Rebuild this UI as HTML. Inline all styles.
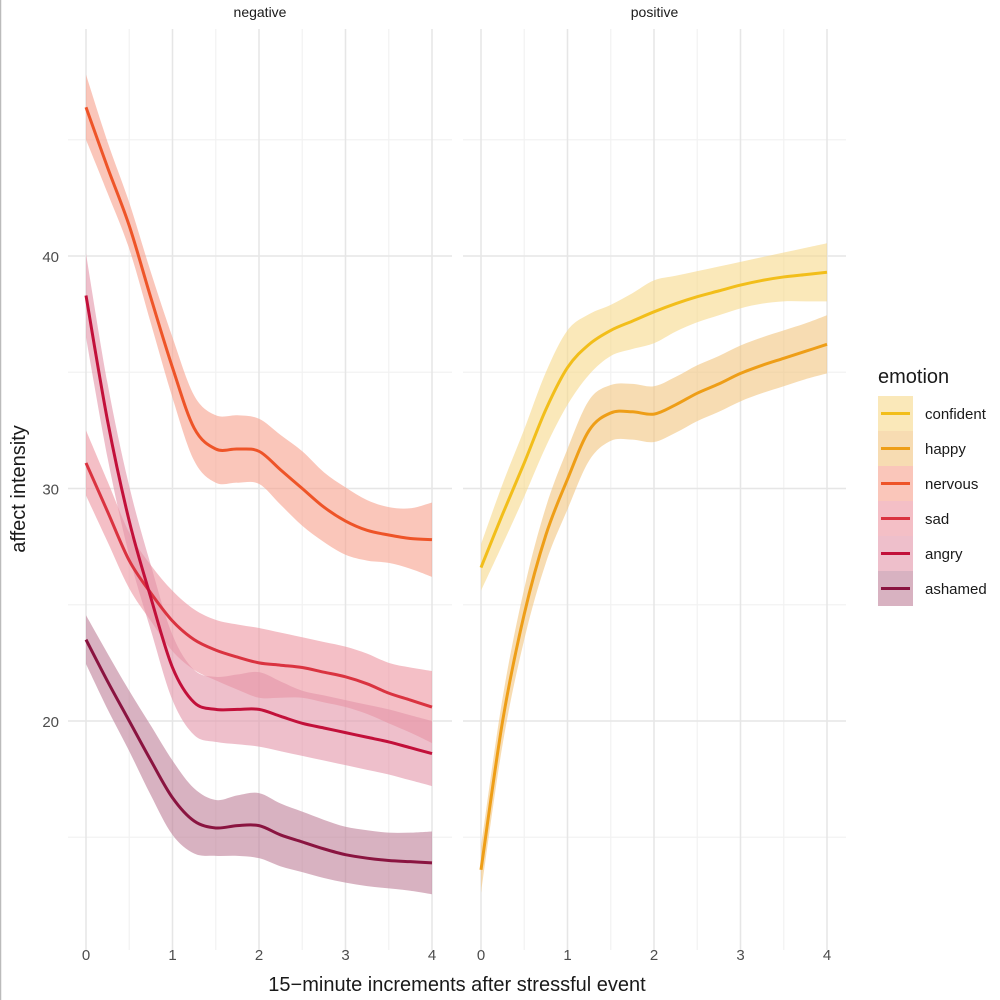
<!DOCTYPE html>
<html><head><meta charset="utf-8"><style>
body{margin:0;background:#fff}
svg{display:block;font-family:"Liberation Sans",sans-serif}
</style></head><body>
<svg id="c" width="1000" height="1000" viewBox="0 0 1000 1000">
<line x1="0.5" y1="0" x2="0.5" y2="1000" stroke="#bbb" stroke-width="1.5"/>
<g id="grid"></g><g id="marks"></g><g id="axes"></g><g id="legend"></g>
</svg>
<script>
const xs = [0,0.25,0.5,0.75,1,1.25,1.5,1.75,2,2.25,2.5,2.75,3,3.25,3.5,3.75,4];
const emotions = ["confident","happy","nervous","sad","angry","ashamed"];
const panels = ["negative","positive"];
const nervous = [46.4,43.8,41.3,38.2,35.2,32.6,31.7,31.7,31.6,30.8,30.0,29.2,28.6,28.2,28.0,27.85,27.8];
const nervousSe = [1.4,1.1,1.0,1.1,1.3,1.4,1.45,1.45,1.4,1.5,1.6,1.5,1.45,1.3,1.2,1.3,1.6];
const sad = [31.1,29.0,26.9,25.5,24.3,23.5,23.05,22.75,22.5,22.4,22.3,22.1,21.9,21.6,21.2,20.9,20.6];
const sadSe = [1.4,1.3,1.2,1.2,1.3,1.3,1.3,1.4,1.5,1.4,1.3,1.3,1.3,1.3,1.3,1.4,1.55];
const angry = [38.3,32.9,28.6,25.3,22.3,20.8,20.5,20.5,20.5,20.2,19.9,19.7,19.5,19.3,19.1,18.85,18.6];
const angrySe = [1.8,1.6,1.5,1.4,1.4,1.4,1.4,1.5,1.6,1.5,1.4,1.4,1.4,1.4,1.4,1.4,1.4];
const ashamed = [23.5,21.7,20.0,18.3,16.7,15.7,15.4,15.5,15.5,15.1,14.8,14.5,14.25,14.1,14.0,13.95,13.9];
const ashamedSe = [1.05,1.2,1.3,1.5,1.6,1.4,1.2,1.3,1.4,1.35,1.3,1.25,1.2,1.2,1.2,1.25,1.35];
const confident = [26.6,28.9,31.1,33.4,35.2,36.2,36.8,37.2,37.6,37.95,38.25,38.5,38.75,38.95,39.1,39.2,39.3];
const confidentSe = [1.0,1.3,1.45,1.6,1.6,1.3,1.1,1.2,1.35,1.2,1.1,1.05,1.0,1.0,1.05,1.15,1.25];
const happy = [13.6,20.0,24.6,28.0,30.4,32.5,33.25,33.3,33.2,33.6,34.1,34.5,34.95,35.3,35.6,35.9,36.2];
const happySe = [1.0,1.0,1.1,1.2,1.3,1.3,1.2,1.2,1.2,1.2,1.2,1.2,1.2,1.2,1.2,1.2,1.25];
const xTicks = [0,1,2,3,4];
const yTicks = [20,30,40];
const yMinor = [15,25,35,45];

const NS="http://www.w3.org/2000/svg";
const colors={confident:"#F2BE1A",happy:"#EE9E17",nervous:"#EE5428",sad:"#DA3340",angry:"#C2103A",ashamed:"#8A1440"};
const fills={confident:"#F7D88A",happy:"#F2C47E",nervous:"#F7A08C",sad:"#EC95A0",angry:"#E295A8",ashamed:"#BE7F98"};
const panelX=[{l:68,r:452,x0:86,x4:432},{l:463,r:846,x0:481,x4:827}];
const pTop=29,pBot=950;
function yS(v){return 256+(40-v)*23.25;}
function xS(p,v){const P=panelX[p];return P.x0+v*(P.x4-P.x0)/4;}
function el(t,a,parent){const e=document.createElementNS(NS,t);for(const k in a)e.setAttribute(k,a[k]);parent.appendChild(e);return e;}
function smooth(pts){let d="M"+pts[0][0]+","+pts[0][1];for(let i=0;i<pts.length-1;i++){const p0=pts[i-1]||pts[i],p1=pts[i],p2=pts[i+1],p3=pts[i+2]||p2;
d+=" C"+(p1[0]+(p2[0]-p0[0])/6)+","+(p1[1]+(p2[1]-p0[1])/6)+" "+(p2[0]-(p3[0]-p1[0])/6)+","+(p2[1]-(p3[1]-p1[1])/6)+" "+p2[0]+","+p2[1];}return d;}
const grid=document.getElementById("grid"),marks=document.getElementById("marks"),axes=document.getElementById("axes"),legend=document.getElementById("legend");
panels.forEach((name,p)=>{
  const P=panelX[p];
  for(let v=0.5;v<4;v+=1){const g=el("line",{x1:xS(p,v),x2:xS(p,v),y1:pTop,y2:pBot,stroke:"#f2f2f2","stroke-width":1.2},grid);
  
  }
  yMinor.forEach(v=>{const g=el("line",{x1:P.l,x2:P.r,y1:yS(v),y2:yS(v),stroke:"#f2f2f2","stroke-width":1.2},grid);
  
  });
  xTicks.forEach(v=>{const g=el("line",{x1:xS(p,v),x2:xS(p,v),y1:pTop,y2:pBot,stroke:"#e6e6e6","stroke-width":1.5},grid);
  
  
  const t=el("text",{x:xS(p,v),y:960,"text-anchor":"middle","font-size":15,fill:"#4d4d4d"},axes);t.textContent=v;
  
  });
  yTicks.forEach(v=>{const g=el("line",{x1:P.l,x2:P.r,y1:yS(v),y2:yS(v),stroke:"#e6e6e6","stroke-width":1.5},grid);
  
  });
  const s=el("text",{x:(P.l+P.r)/2,y:17,"text-anchor":"middle","font-size":14,fill:"#1a1a1a"},axes);s.textContent=name;
  
  
});
yTicks.forEach(v=>{const t=el("text",{x:59,y:yS(v)+6,"text-anchor":"end","font-size":15,fill:"#4d4d4d"},axes);t.textContent=v;

});
const series={nervous:[0,nervous,nervousSe],sad:[0,sad,sadSe],angry:[0,angry,angrySe],ashamed:[0,ashamed,ashamedSe],confident:[1,confident,confidentSe],happy:[1,happy,happySe]};
const order=["nervous","sad","angry","ashamed","confident","happy"];
order.forEach(k=>{const [p,v,se]=series[k];
  const up=xs.map((x,i)=>[xS(p,x),yS(v[i]+se[i])]),lo=xs.map((x,i)=>[xS(p,x),yS(v[i]-se[i])]).reverse();
  const d=smooth(up)+" L"+smooth(lo).slice(1)+" Z";
  const r=el("path",{d:d,fill:fills[k],"fill-opacity":0.6},marks);
  
  });
order.forEach(k=>{const [p,v]=series[k];
  const l=el("path",{d:smooth(xs.map((x,i)=>[xS(p,x),yS(v[i])])),fill:"none",stroke:colors[k],"stroke-width":3},marks);
  
  });
let t=el("text",{x:457,y:991,"text-anchor":"middle","font-size":20,fill:"#1a1a1a"},axes);t.textContent="15\u2212minute increments after stressful event";


t=el("text",{x:0,y:0,"text-anchor":"middle","font-size":20,fill:"#1a1a1a",transform:"translate(25,489) rotate(-90)"},axes);t.textContent="affect intensity";


t=el("text",{x:878,y:383,"font-size":20,fill:"#1a1a1a"},legend);t.textContent="emotion";


emotions.forEach((k,i)=>{const y=396+i*35;
  const g=el("g",{},legend);
  
  
  el("rect",{x:878,y:y,width:35,height:35,fill:fills[k],"fill-opacity":0.6},g);
  el("line",{x1:881,x2:910,y1:y+17.5,y2:y+17.5,stroke:colors[k],"stroke-width":3},g);
  const tt=el("text",{x:925,y:y+23,"font-size":15,fill:"#1a1a1a"},g);tt.textContent=k;});
</script>
</body></html>
